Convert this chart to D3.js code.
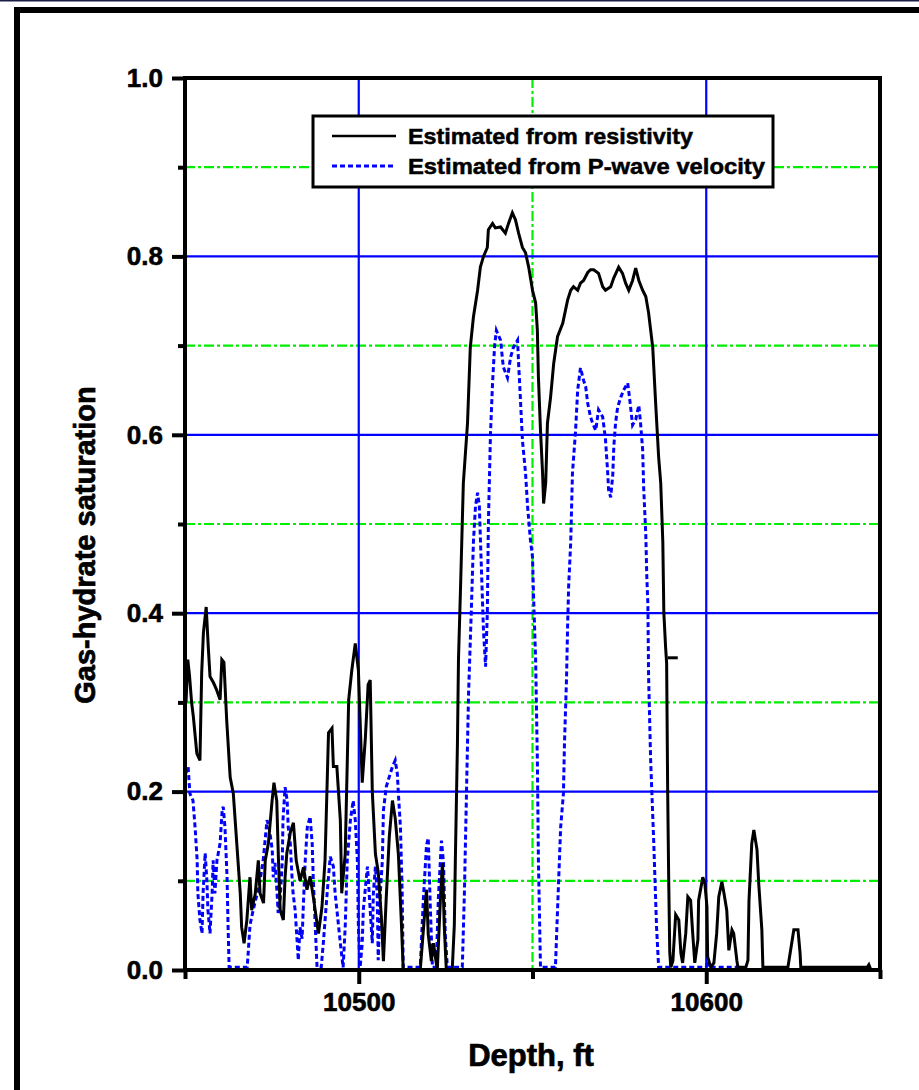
<!DOCTYPE html>
<html><head><meta charset="utf-8">
<script src="https://cdn.jsdelivr.net/npm/d3@7"></script>
<style>
html,body{margin:0;padding:0;background:#fff;}
svg text{font-family:"Liberation Sans",Arial,Helvetica,sans-serif;font-weight:bold;fill:#000;}
</style></head>
<body>
<svg id="chart" width="919" height="1090"></svg>
<script>
// ---------------- DATA ----------------
const depthDomain = [10450, 10650];
const satDomain = [0, 1];
const satMajorTicks = [0, 0.2, 0.4, 0.6, 0.8, 1.0];
const satMinorTicks = [0.1, 0.3, 0.5, 0.7, 0.9];
const depthMajorTicks = [10500, 10600];
const depthMinorTicks = [10450, 10550, 10650];
const blueGridSat = [0.2, 0.4, 0.6, 0.8];
const greenGridSat = [0.1, 0.3, 0.5, 0.7, 0.9];
const blueGridDepth = [10500, 10600];
const greenGridDepth = [10550];
const xTitle = "Depth, ft";
const yTitle = "Gas-hydrate saturation";
const legendLabels = ["Estimated from resistivity", "Estimated from P-wave velocity"];

// Gas-hydrate saturation estimated from resistivity [depth ft, saturation]
const resistivity = [
[10450.3,0.30],[10450.8,0.348],[10451.3,0.33],[10451.9,0.30],[10452.4,0.284],[10453.4,0.243],
[10454.3,0.235],[10454.8,0.333],[10455.3,0.378],[10456.1,0.407],[10456.7,0.362],[10457.2,0.329],
[10458.2,0.322],[10459.1,0.314],[10460.1,0.303],[10460.6,0.348],[10461.2,0.345],[10462.0,0.28],
[10463.0,0.216],[10463.9,0.198],[10464.9,0.142],[10465.9,0.086],[10466.3,0.048],[10467.0,0.030],
[10467.8,0.056],[10468.7,0.104],[10469.2,0.067],[10470.2,0.085],[10471.1,0.123],[10471.6,0.086],
[10472.6,0.075],[10473.1,0.123],[10474.0,0.142],[10475.0,0.187],[10475.6,0.21],[10476.4,0.19],
[10476.9,0.123],[10477.4,0.067],[10478.3,0.056],[10478.8,0.104],[10479.3,0.131],[10480.3,0.154],
[10481.2,0.165],[10482.0,0.123],[10483.1,0.10],[10484.1,0.115],[10485.1,0.09],[10486.0,0.105],
[10487.0,0.08],[10488.4,0.041],[10489.4,0.07],[10490.3,0.123],[10491.3,0.266],[10492.3,0.271],
[10492.7,0.228],[10493.7,0.228],[10494.7,0.168],[10495.1,0.086],[10496.1,0.13],[10497.1,0.303],
[10498.0,0.336],[10499.0,0.366],[10499.9,0.336],[10501.0,0.21],[10501.9,0.26],[10502.7,0.32],
[10503.3,0.325],[10503.9,0.2],[10504.8,0.13],[10505.6,0.11],[10506.5,0.06],[10507.1,0.01],
[10507.9,0.08],[10508.8,0.15],[10509.7,0.19],[10510.5,0.17],[10511.4,0.13],[10512.3,0.05],
[10512.8,0.0],[10517.7,0.0],[10518.9,0.06],[10519.5,0.09],[10520.0,0.04],[10520.9,0.01],
[10521.5,0.03],[10522.6,0.0],[10523.5,0.08],[10524.1,0.12],[10524.6,0.05],[10525.2,0.0],
[10526.9,0.0],[10527.5,0.05],[10527.8,0.123],[10528.4,0.254],[10528.7,0.348],[10529.3,0.43],
[10530.1,0.546],[10531.3,0.613],[10532.1,0.698],[10533.0,0.732],[10534.2,0.762],[10535.0,0.788],
[10535.9,0.80],[10537.0,0.81],[10537.3,0.83],[10538.5,0.837],[10539.3,0.832],[10540.8,0.833],
[10542.2,0.826],[10543.1,0.837],[10544.2,0.849],[10545.1,0.841],[10546.0,0.826],[10547.1,0.81],
[10548.0,0.804],[10548.9,0.788],[10550.0,0.762],[10550.9,0.748],[10551.4,0.717],[10551.7,0.665],
[10552.3,0.605],[10552.9,0.557],[10553.2,0.523],[10553.8,0.546],[10554.3,0.613],[10555.2,0.642],
[10556.1,0.68],[10557.2,0.71],[10558.7,0.725],[10560.1,0.751],[10561.0,0.762],[10561.8,0.766],
[10563.0,0.762],[10563.8,0.77],[10564.7,0.773],[10565.9,0.782],[10566.7,0.785],[10567.6,0.785],
[10569.0,0.781],[10570.2,0.766],[10571.0,0.762],[10572.5,0.766],[10573.4,0.776],[10574.8,0.788],
[10575.9,0.781],[10576.8,0.77],[10577.7,0.762],[10578.8,0.773],[10579.7,0.787],[10580.6,0.773],
[10581.7,0.762],[10582.6,0.755],[10583.4,0.737],[10584.6,0.698],[10585.5,0.631],[10586.3,0.575],
[10586.9,0.546],[10587.5,0.48],[10587.8,0.40],[10588.3,0.362],[10588.6,0.344],[10588.9,0.2],
[10589.2,0.1],[10589.5,0.02],[10589.8,0.003],[10590.4,0.01],[10591.2,0.062],[10592.1,0.056],
[10592.7,0.019],[10593.2,0.008],[10594.1,0.041],[10594.7,0.082],[10595.5,0.078],[10596.1,0.041],
[10596.7,0.008],[10597.6,0.034],[10597.8,0.078],[10599.0,0.104],[10599.6,0.097],[10600.2,0.071],
[10600.4,0.015],[10601.3,0.003],[10602.2,0.008],[10603.0,0.041],[10603.6,0.082],[10604.5,0.099],
[10605.1,0.086],[10605.9,0.067],[10606.5,0.022],[10607.4,0.045],[10607.9,0.041],[10608.8,0.011],
[10609.1,0.003],[10611.4,0.003],[10612.0,0.011],[10612.3,0.078],[10613.1,0.142],[10613.7,0.157],
[10614.6,0.135],[10615.1,0.097],[10616.0,0.045],[10616.3,0.003],[10623.5,0.003],[10625.2,0.045],
[10626.4,0.045],[10627.0,0.019],[10627.2,0.003],[10646.3,0.003],[10646.8,0.006],[10647.4,0.0]
];
// short detached piece of the resistivity curve
const resistivityFragment = [[10588.9,0.35],[10591.8,0.35]];

// Gas-hydrate saturation estimated from P-wave velocity [depth ft, saturation]
const pwave = [
[10450.2,0.22],[10450.9,0.228],[10451.4,0.198],[10452.3,0.19],[10452.9,0.16],[10453.5,0.123],
[10453.7,0.086],[10454.3,0.056],[10454.9,0.041],[10455.2,0.086],[10455.8,0.131],[10456.3,0.10],
[10456.6,0.067],[10457.2,0.041],[10457.8,0.086],[10458.1,0.123],[10458.6,0.086],[10459.2,0.123],
[10460.1,0.142],[10460.7,0.179],[10461.0,0.183],[10461.5,0.16],[10462.1,0.104],[10462.4,0.048],
[10462.7,0.003],[10467.9,0.003],[10468.2,0.02],[10468.7,0.05],[10469.6,0.067],[10470.8,0.086],
[10471.6,0.10],[10472.5,0.123],[10473.6,0.168],[10474.2,0.16],[10475.1,0.135],[10475.4,0.104],
[10475.9,0.12],[10476.5,0.086],[10476.8,0.064],[10477.4,0.08],[10478.0,0.123],[10478.2,0.168],
[10478.8,0.205],[10479.4,0.19],[10479.7,0.16],[10480.3,0.142],[10480.8,0.104],[10481.1,0.086],
[10481.7,0.067],[10482.3,0.030],[10482.6,0.011],[10483.1,0.048],[10483.7,0.035],[10484.0,0.067],
[10484.6,0.123],[10485.2,0.16],[10486.0,0.172],[10486.6,0.142],[10486.9,0.104],[10487.5,0.048],
[10488.0,0.003],[10489.2,0.003],[10489.8,0.03],[10490.9,0.086],[10491.8,0.127],[10492.7,0.116],
[10493.2,0.086],[10493.8,0.064],[10494.7,0.03],[10495.5,0.003],[10496.1,0.048],[10496.7,0.123],
[10497.6,0.168],[10498.4,0.19],[10499.0,0.168],[10499.6,0.123],[10499.9,0.048],[10500.4,0.003],
[10501.0,0.03],[10501.3,0.067],[10502.5,0.116],[10502.7,0.105],[10503.3,0.067],[10503.9,0.03],
[10504.2,0.086],[10504.8,0.116],[10505.3,0.086],[10505.6,0.011],[10506.2,0.086],[10506.8,0.123],
[10507.1,0.179],[10507.9,0.205],[10508.5,0.213],[10509.7,0.228],[10510.5,0.235],[10511.1,0.22],
[10511.4,0.198],[10512.0,0.16],[10512.5,0.086],[10512.8,0.003],[10517.7,0.003],[10518.6,0.08],
[10519.5,0.14],[10520.0,0.148],[10520.6,0.07],[10521.2,0.003],[10522.3,0.003],[10522.9,0.08],
[10523.8,0.145],[10524.4,0.12],[10524.9,0.04],[10525.5,0.003],[10529.8,0.003],[10530.4,0.086],
[10531.0,0.198],[10531.6,0.31],[10532.4,0.404],[10533.0,0.48],[10533.6,0.52],[10534.2,0.535],
[10534.7,0.52],[10535.3,0.45],[10535.9,0.38],[10536.5,0.34],[10537.0,0.40],[10537.3,0.50],
[10537.9,0.60],[10538.5,0.658],[10539.1,0.70],[10539.6,0.717],[10540.8,0.706],[10541.6,0.676],
[10542.8,0.664],[10543.7,0.687],[10544.5,0.698],[10545.7,0.706],[10546.0,0.68],[10546.5,0.642],
[10547.1,0.594],[10548.0,0.557],[10548.6,0.519],[10549.4,0.482],[10550.0,0.463],[10550.3,0.42],
[10550.9,0.348],[10551.4,0.235],[10551.7,0.123],[10552.3,0.003],[10556.6,0.003],[10557.2,0.067],
[10558.1,0.16],[10558.9,0.198],[10559.2,0.254],[10559.8,0.328],[10560.1,0.385],[10560.4,0.43],
[10561.0,0.48],[10561.5,0.557],[10562.4,0.605],[10563.0,0.65],[10563.8,0.675],[10564.7,0.661],
[10565.3,0.654],[10565.9,0.635],[10566.7,0.62],[10567.3,0.613],[10568.2,0.605],[10569.0,0.628],
[10570.2,0.62],[10571.0,0.595],[10571.6,0.56],[10571.9,0.538],[10572.5,0.53],[10573.1,0.555],
[10573.4,0.587],[10573.9,0.613],[10574.5,0.631],[10575.4,0.642],[10576.2,0.65],[10577.4,0.658],
[10578.0,0.639],[10578.8,0.611],[10579.7,0.617],[10580.3,0.628],[10580.6,0.633],[10581.1,0.613],
[10581.7,0.583],[10582.0,0.54],[10582.6,0.488],[10582.9,0.44],[10583.2,0.41],[10583.4,0.33],
[10584.0,0.235],[10584.9,0.142],[10585.7,0.048],[10586.3,0.003],[10600.0,0.003],[10600.3,0.01],
[10600.6,0.003],[10610.0,0.003]
];

// ---------------- DRAW ----------------
const svg = d3.select("#chart");
const L = 185, R = 880, T = 78, B = 970;
const x = d3.scaleLinear().domain(depthDomain).range([L, R]);
const y = d3.scaleLinear().domain(satDomain).range([B, T]);

// outer frame
svg.append("rect").attr("x", 0).attr("y", 0).attr("width", 919).attr("height", 1.5).attr("fill", "#1c1c48");
svg.append("rect").attr("x", 17).attr("y", 10).attr("width", 960).attr("height", 1150)
  .attr("fill", "none").attr("stroke", "#000").attr("stroke-width", 6);

// clip
svg.append("defs").append("clipPath").attr("id", "plotclip")
  .append("rect").attr("x", L).attr("y", T).attr("width", R - L).attr("height", B - T);

const grid = svg.append("g");
const green = "#00ee00", blue = "#0000ff";
grid.selectAll(".gh").data(greenGridSat).join("line")
  .attr("x1", L).attr("x2", R).attr("y1", d => y(d)).attr("y2", d => y(d))
  .attr("stroke", green).attr("stroke-width", 2.2).attr("stroke-dasharray", "10,3,3,3");
grid.selectAll(".gv").data(greenGridDepth).join("line")
  .attr("x1", d => x(d)).attr("x2", d => x(d)).attr("y1", T).attr("y2", B)
  .attr("stroke", green).attr("stroke-width", 2.2).attr("stroke-dasharray", "10,3,3,3");
grid.selectAll(".bh").data(blueGridSat).join("line")
  .attr("x1", L).attr("x2", R).attr("y1", d => y(d)).attr("y2", d => y(d))
  .attr("stroke", blue).attr("stroke-width", 2.2);
grid.selectAll(".bv").data(blueGridDepth).join("line")
  .attr("x1", d => x(d)).attr("x2", d => x(d)).attr("y1", T).attr("y2", B)
  .attr("stroke", blue).attr("stroke-width", 2.2);

const line = d3.line().x(d => x(d[0])).y(d => y(d[1]));
const plot = svg.append("g").attr("clip-path", "url(#plotclip)");
plot.append("path").datum(pwave).attr("d", line).attr("fill", "none")
  .attr("stroke", blue).attr("stroke-width", 3).attr("stroke-dasharray", "5,3");
plot.append("path").datum(resistivity).attr("d", line).attr("fill", "none")
  .attr("stroke", "#000").attr("stroke-width", 3).attr("stroke-linejoin", "miter");
plot.append("path").datum(resistivityFragment).attr("d", line).attr("fill", "none")
  .attr("stroke", "#000").attr("stroke-width", 3);

// axes
const fmt = d3.format(".1f");
const yAxis = svg.append("g").attr("transform", `translate(${L},0)`)
  .call(d3.axisLeft(y).tickValues(satMajorTicks).tickSize(13).tickPadding(9).tickFormat(fmt));
const yMinor = svg.append("g").attr("transform", `translate(${L},0)`)
  .call(d3.axisLeft(y).tickValues(satMinorTicks).tickSize(7).tickFormat(""));
const xAxis = svg.append("g").attr("transform", `translate(0,${B})`)
  .call(d3.axisBottom(x).tickValues(depthMajorTicks).tickSize(14).tickPadding(9).tickFormat(d3.format("d")));
const xMinor = svg.append("g").attr("transform", `translate(0,${B})`)
  .call(d3.axisBottom(x).tickValues(depthMinorTicks).tickSize(9).tickFormat(""));
[yAxis, yMinor, xAxis, xMinor].forEach(g => {
  g.select(".domain").remove();
  g.selectAll(".tick line").attr("stroke", "#000").attr("stroke-width", 4);
  g.selectAll(".tick text").style("font-size", "26px").attr("stroke", "#000").attr("stroke-width", 0.6);
});

// frame
svg.append("rect").attr("x", L).attr("y", T).attr("width", R - L).attr("height", B - T)
  .attr("fill", "none").attr("stroke", "#000").attr("stroke-width", 4);

// titles
svg.append("text").attr("x", 531).attr("y", 1066).attr("text-anchor", "middle")
  .style("font-size", "31px").attr("stroke", "#000").attr("stroke-width", 0.7).text(xTitle);
svg.append("text").attr("transform", "translate(95,545) rotate(-90)").attr("text-anchor", "middle")
  .style("font-size", "29px").attr("stroke", "#000").attr("stroke-width", 0.7).text(yTitle);

// legend
const lg = svg.append("g");
lg.append("rect").attr("x", 313).attr("y", 116).attr("width", 460).attr("height", 71)
  .attr("fill", "#fff").attr("stroke", "#000").attr("stroke-width", 3);
const legendStyles = [{c: "#000", dash: null, w: 2.5}, {c: blue, dash: "5,3", w: 3}];
const rowY = [136, 166];
const rowW = [285, 357];
legendLabels.forEach((t, i) => {
  lg.append("line").attr("x1", 332).attr("x2", 396).attr("y1", rowY[i]).attr("y2", rowY[i])
    .attr("stroke", legendStyles[i].c).attr("stroke-width", legendStyles[i].w)
    .attr("stroke-dasharray", legendStyles[i].dash);
  lg.append("text").attr("x", 408).attr("y", rowY[i] + 8).style("font-size", "22px")
    .attr("textLength", rowW[i]).attr("lengthAdjust", "spacingAndGlyphs")
    .attr("stroke", "#000").attr("stroke-width", 0.5).text(t);
});
</script>
</body></html>
